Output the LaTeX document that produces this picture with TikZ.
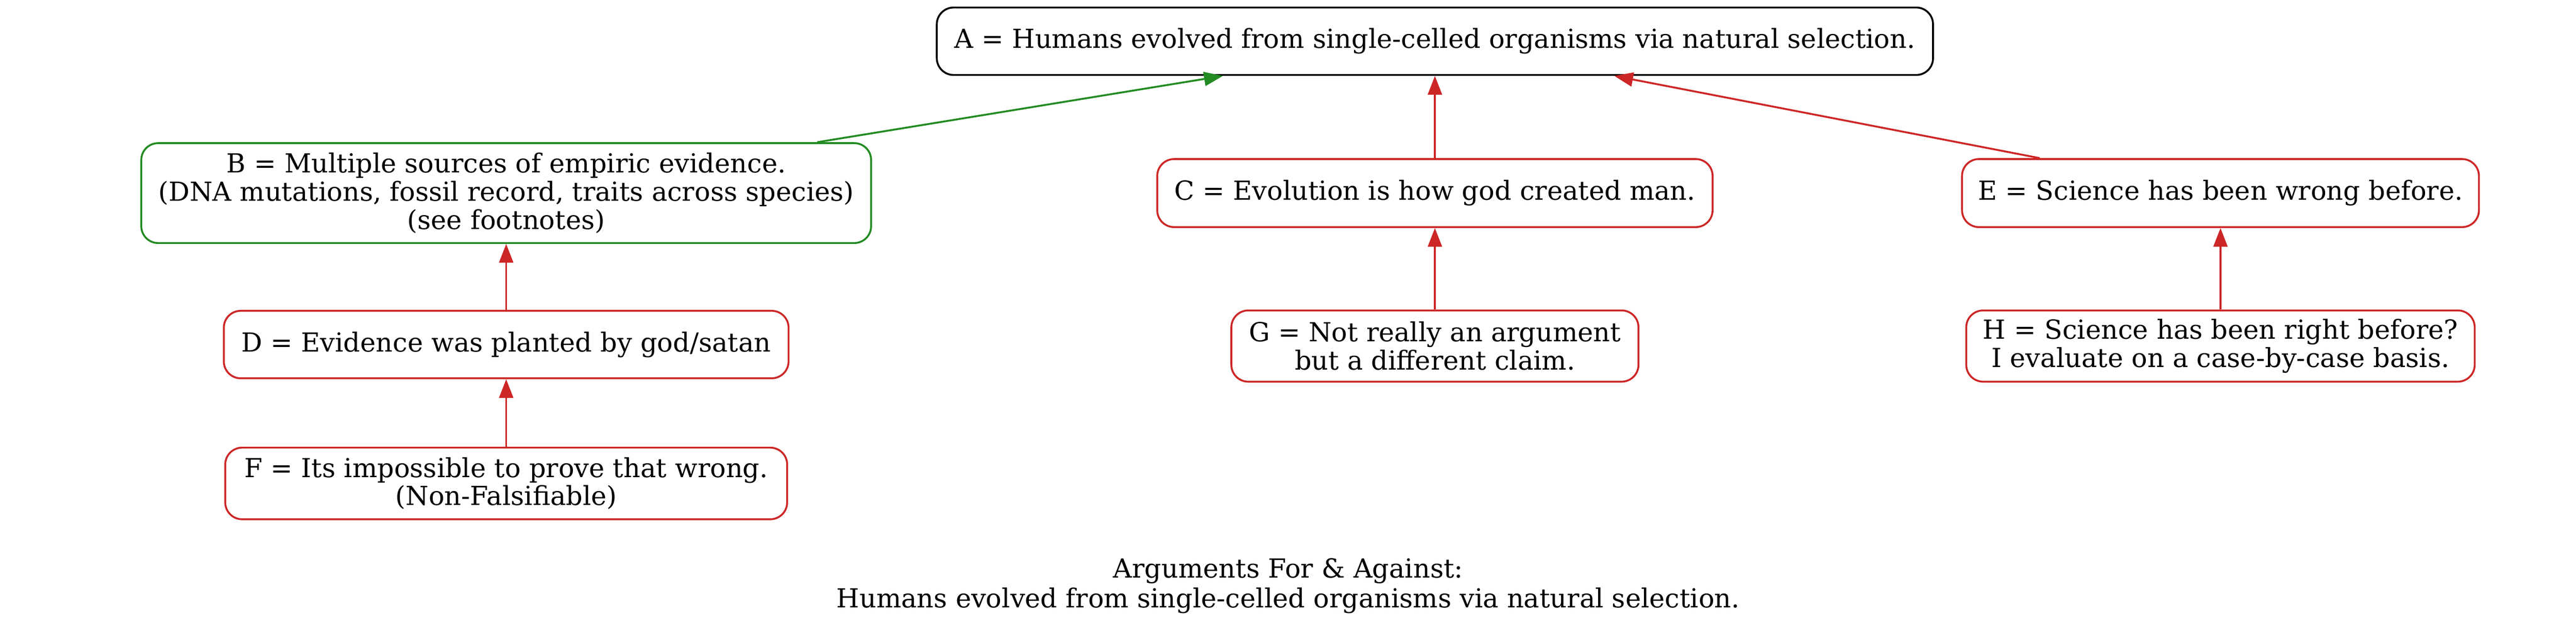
\documentclass[tikz,border=0pt]{standalone}
\usepackage{fontspec}
\setmainfont{DejaVu Serif}
\usetikzlibrary{arrows.meta}
\definecolor{argred}{RGB}{205,38,38}
\definecolor{arggreen}{RGB}{34,139,34}
\tikzset{
  argbox/.style={draw, line width=1pt, rounded corners=9pt, align=center,
    inner sep=0pt, font=\fontsize{14pt}{15pt}\selectfont},
  prosbox/.style={argbox, draw=arggreen},
  conbox/.style={argbox, draw=argred},
  proedge/.style={draw=arggreen, line width=1pt, -{Triangle[length=10pt,width=7.5pt]}, fill=arggreen},
  conedge/.style={draw=argred, line width=1pt, -{Triangle[length=10pt,width=7.5pt]}, fill=argred},
  caption/.style={align=center, inner sep=0pt, font=\fontsize{14pt}{16pt}\selectfont}
}
\begin{document}
\begin{tikzpicture}[x=1pt,y=1pt]
\useasboundingbox (0,0) rectangle (1373,-335);
\node[argbox, minimum width=531pt, minimum height=36pt] (A) at (764.8,-22) {A = Humans evolved from single-celled organisms via natural selection.};
\node[prosbox, minimum width=389pt, minimum height=53.3pt] (B) at (269.8,-103) {B = Multiple sources of empiric evidence.\\(DNA mutations, fossil record, traits across species)\\(see footnotes)};
\node[conbox, minimum width=296pt, minimum height=36.3pt] (C) at (764.8,-103) {C = Evolution is how god created man.};
\node[conbox, minimum width=275.5pt, minimum height=36.3pt] (E) at (1183.5,-103) {E = Science has been wrong before.};
\node[conbox, minimum width=301pt, minimum height=36pt] (D) at (269.8,-183.8) {D = Evidence was planted by god/satan};
\node[conbox, minimum width=299.5pt, minimum height=38.2pt] (F) at (269.8,-257.9) {F = Its impossible to prove that wrong.\\(Non-Falsifiable)};
\node[conbox, minimum width=217pt, minimum height=38pt] (G) at (764.8,-184.6) {G = Not really an argument\\but a different claim.};
\node[conbox, minimum width=271pt, minimum height=38pt] (H) at (1183.5,-184.6) {H = Science has been right before?\\I evaluate on a case-by-case basis.};
\node[caption] (cap) at (686.6,-312.5) {Arguments For \& Against:\\Humans evolved from single-celled organisms via natural selection.};
\draw[proedge] (B) -- (A);
\draw[conedge] (C) -- (A);
\draw[conedge] (E) -- (A);
\draw[conedge] (D) -- (B);
\draw[conedge] (F) -- (D);
\draw[conedge] (G) -- (C);
\draw[conedge] (H) -- (E);
\end{tikzpicture}
\end{document}
